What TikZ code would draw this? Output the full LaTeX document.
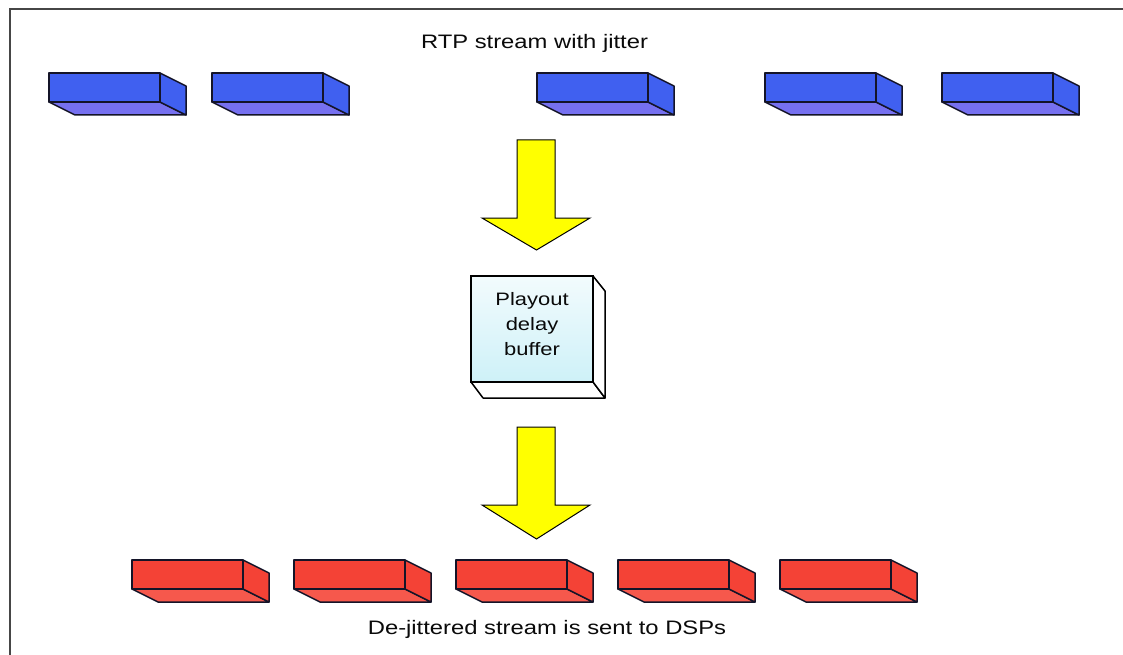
\documentclass[tikz,border=0pt]{standalone}
\usepackage{fontspec}
\setmainfont{Liberation Sans}

\definecolor{pktblue}{RGB}{64,96,240}
\definecolor{pktblueb}{RGB}{118,112,240}
\definecolor{pktred}{RGB}{244,66,54}
\definecolor{pktredb}{RGB}{246,88,76}
\definecolor{pktline}{RGB}{20,20,40}
\definecolor{arrowyellow}{RGB}{255,255,0}
\definecolor{buftop}{RGB}{242,251,253}
\definecolor{bufbot}{RGB}{206,241,248}
\definecolor{framegray}{RGB}{70,70,70}
\definecolor{txt}{RGB}{10,10,10}

% horizontally widened text
\newcommand\sx[1]{\scalebox{1.22}[1]{#1}}

% a packet drawn as a flat box: x, y of the front face, front colour, underside colour
\newcommand\pkt[4]{%
  \begin{scope}[shift={(#1,#2)}]
    \filldraw[pktface, fill=#4] (0,29) -- (26,42) -- (137,42) -- (111,29) -- cycle;
    \filldraw[pktface, fill=#3] (111,0) -- (137,13) -- (137,42) -- (111,29) -- cycle;
    \filldraw[pktface, fill=#3] (0,0) rectangle (111,29);
  \end{scope}}

% big yellow down arrow: top of shaft at y=#1, tip at y=#1+#2
\newcommand\yarrow[2]{%
  \filldraw[bigarrow] (517,#1) -- (555,#1) -- (555,#1+78) -- (590,#1+78)
    -- (536.5,#1+#2) -- (482,#1+78) -- (517,#1+78) -- cycle;}

\tikzset{
  pktface/.style={draw=pktline, line width=1.5, line join=round},
  bigarrow/.style={fill=arrowyellow, draw=black, line width=1, line join=miter},
  lbl/.style={inner sep=0, text=txt, font=\fontsize{19.5}{23}\selectfont},
  buflbl/.style={inner sep=0, text=txt, align=center, font=\fontsize{18}{25}\selectfont},
}

\begin{document}
\begin{tikzpicture}[x=1pt,y=-1pt]
\useasboundingbox (0,0) rectangle (1123,655);
\fill[white] (-2,-2) rectangle (1125,657);

% outer frame (top and left edges)
\draw[framegray, line width=2] (10,657) -- (10,9) -- (1125,9);

% incoming stream with irregular spacing
\node[lbl, anchor=base] (title) at (534.5,48.3) {\sx{RTP stream with jitter}};
\pkt{49}{73}{pktblue}{pktblueb}
\pkt{212}{73}{pktblue}{pktblueb}
\pkt{537}{73}{pktblue}{pktblueb}
\pkt{765}{73}{pktblue}{pktblueb}
\pkt{942}{73}{pktblue}{pktblueb}

\yarrow{140}{110}

% playout delay buffer
\filldraw[draw=black, line width=1.5, fill=white, line join=round]
  (471,382) -- (483,398) -- (605,398) -- (593,382) -- cycle;
\filldraw[draw=black, line width=1.5, fill=white, line join=round]
  (593,276) -- (605,291) -- (605,398) -- (593,382) -- cycle;
\draw[draw=black, line width=2.2, top color=buftop, bottom color=bufbot]
  (471,276) rectangle (593,382);
\node[buflbl] (buffer) at (532,324) {\sx{Playout}\\\sx{delay}\\\sx{buffer}};

\yarrow{427}{112}

% outgoing stream, evenly spaced
\pkt{132}{560}{pktred}{pktredb}
\pkt{294}{560}{pktred}{pktredb}
\pkt{456}{560}{pktred}{pktredb}
\pkt{618}{560}{pktred}{pktredb}
\pkt{780}{560}{pktred}{pktredb}
\node[lbl, anchor=base] (caption) at (547,634) {\sx{De-jittered stream is sent to DSPs}};
\end{tikzpicture}
\end{document}
